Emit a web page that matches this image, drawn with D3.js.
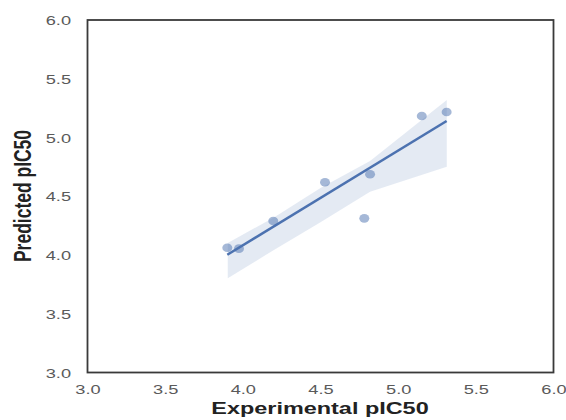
<!DOCTYPE html>
<html><head><meta charset="utf-8">
<script src="https://cdn.jsdelivr.net/npm/d3@7"></script>
<style>body{margin:0;background:#fff}svg{display:block}</style>
</head><body>
<svg id="c" width="566" height="420"></svg>
<script>
const experimental = [3.90, 3.975, 4.196, 4.529, 4.819, 4.782, 5.152, 5.312];
const predicted    = [4.062, 4.054, 4.289, 4.619, 4.687, 4.312, 5.183, 5.217];
const bandX     = [3.903, 4.20, 4.50, 4.819, 5.313];
const bandUpper = [4.102, 4.32, 4.57, 4.80, 5.319];
const bandLower = [3.802, 4.043, 4.278, 4.539, 4.751];
const xTicks = [3.0, 3.5, 4.0, 4.5, 5.0, 5.5, 6.0];
const yTicks = [3.0, 3.5, 4.0, 4.5, 5.0, 5.5, 6.0];
const xLabel = "Experimental pIC50";
const yLabel = "Predicted pIC50";

const color = "#4c72b0";
const m = {l: 87.5, r: 553.5, t: 20, b: 372.5};
const svg = d3.select("#c");
const x = d3.scaleLinear().domain([3, 6]).range([m.l, m.r]);
const y = d3.scaleLinear().domain([3, 6]).range([m.b, m.t]);

// regression
const n = experimental.length;
const mx = d3.mean(experimental), my = d3.mean(predicted);
let sxy = 0, sxx = 0;
for (let i = 0; i < n; i++) { sxy += (experimental[i]-mx)*(predicted[i]-my); sxx += (experimental[i]-mx)**2; }
const slope = sxy/sxx, icpt = my - slope*mx;
const xr = d3.extent(experimental);

// band
const bandData = bandX.map((v,i)=>({x:v, lo:bandLower[i], hi:bandUpper[i]}));
svg.append("path").datum(bandData)
  .attr("d", d3.area().x(d=>x(d.x)).y0(d=>y(d.lo)).y1(d=>y(d.hi)))
  .attr("fill", color).attr("fill-opacity", 0.15);

// points
svg.append("g").selectAll("ellipse").data(experimental.map((v,i)=>[v,predicted[i]]))
  .join("ellipse").attr("cx", d=>x(d[0])).attr("cy", d=>y(d[1]))
  .attr("rx", 5).attr("ry", 4.3).attr("fill", color).attr("fill-opacity", 0.5);

// line
svg.append("path").datum(xr.map(v=>[v, icpt+slope*v]))
  .attr("d", d3.line().x(d=>x(d[0])).y(d=>y(d[1])))
  .attr("stroke", color).attr("stroke-width", 2.6).attr("fill", "none");

// frame
svg.append("rect").attr("x", m.l).attr("y", m.t).attr("width", m.r-m.l).attr("height", m.b-m.t)
  .attr("fill", "none").attr("stroke", "#3a3a3a").attr("stroke-width", 1.8);

const sx = 1.35;
const xa = svg.append("g").attr("transform", `translate(0,${m.b})`)
  .call(d3.axisBottom(x).tickValues(xTicks).tickFormat(d3.format(".1f")).tickSize(0).tickPadding(0));
xa.select(".domain").remove();
xa.selectAll("text").attr("y", 0).attr("dy", 0)
  .attr("transform", `translate(0,21.5) scale(${sx},1)`)
  .attr("font-family", "Liberation Sans, Arial, sans-serif").attr("font-size", 13.5).attr("fill", "#5a5a5a");

const ya = svg.append("g").attr("transform", `translate(0,0)`)
  .call(d3.axisLeft(y).tickValues(yTicks).tickFormat(d3.format(".1f")).tickSize(0).tickPadding(0));
ya.select(".domain").remove();
ya.selectAll("text").attr("x", 0).attr("dy", "0.35em")
  .attr("text-anchor", "end")
  .attr("transform", `translate(71,0) scale(${sx},1)`)
  .attr("font-family", "Liberation Sans, Arial, sans-serif").attr("font-size", 13.5).attr("fill", "#5a5a5a");

svg.append("text").text(xLabel)
  .attr("transform", `translate(320,414) scale(1.42,1)`)
  .attr("text-anchor", "middle").attr("font-family", "Liberation Sans, Arial, sans-serif")
  .attr("font-weight", "bold").attr("font-size", 16.5).attr("fill", "#222");

svg.append("text").text(yLabel)
  .attr("transform", `translate(31,196) scale(1.35,1) rotate(-90)`)
  .attr("text-anchor", "middle").attr("font-family", "Liberation Sans, Arial, sans-serif")
  .attr("font-weight", "bold").attr("font-size", 17.5).attr("fill", "#222");
</script>
</body></html>
